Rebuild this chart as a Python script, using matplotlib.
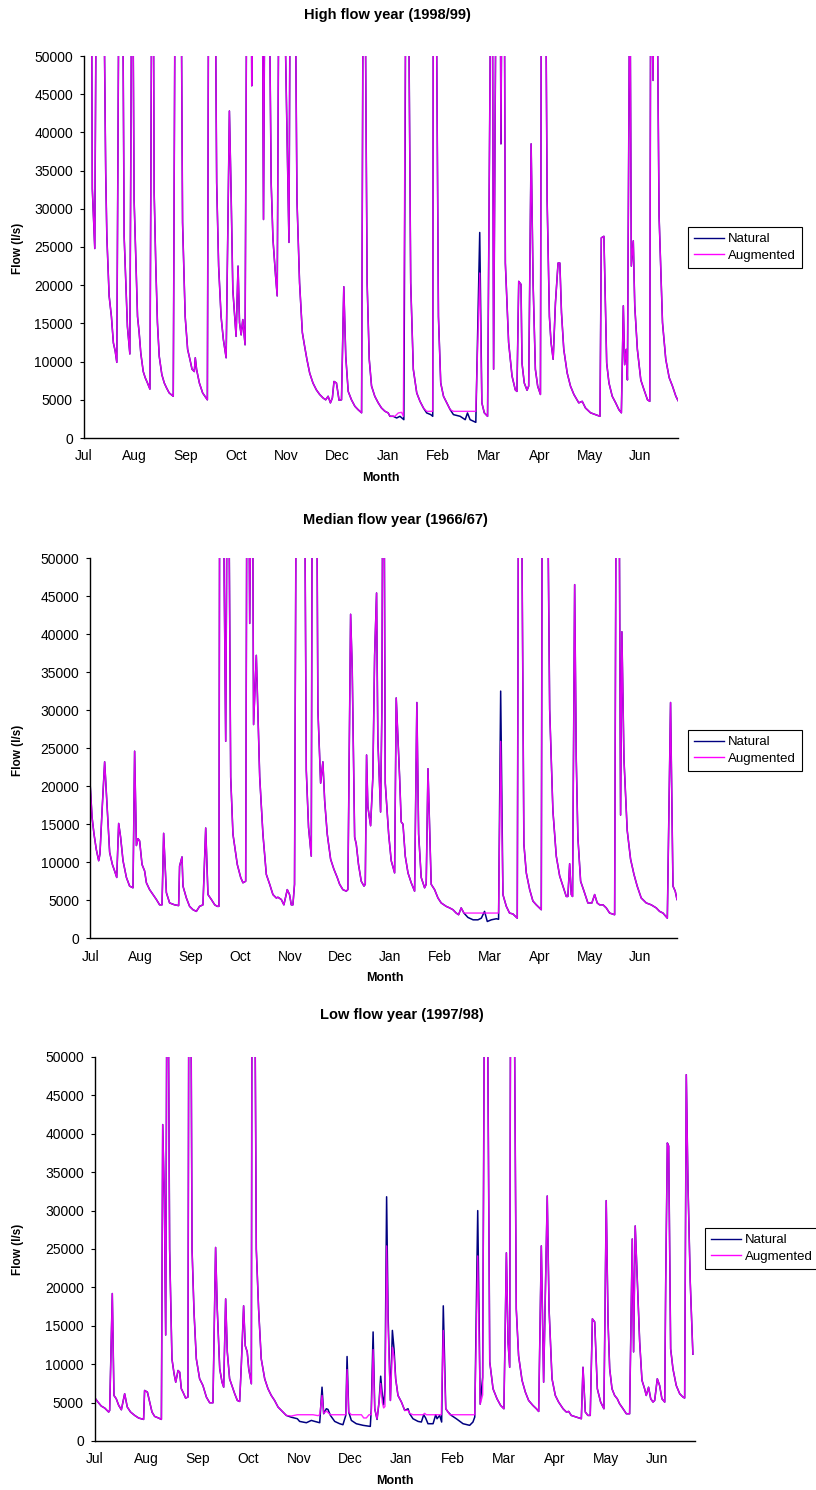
import numpy as np
import matplotlib.pyplot as plt

plt.rcParams['font.family'] = ['Liberation Sans', 'DejaVu Sans']

MONTHS = ['Jul', 'Aug', 'Sep', 'Oct', 'Nov', 'Dec', 'Jan', 'Feb', 'Mar', 'Apr', 'May', 'Jun']

# day of the water year (0 = 1 July) and flow in l/s.
# 65000 only means "off the top": the axis stops at 50000

# high flow year 1998/99
HIGH_DAYS = [0, 4.5, 5.1, 6.6, 7.6, 11.9, 13.3, 14.0, 15.4, 16.8, 18.0, 19.1, 20.1, 21.5, 23.6, 24.6,
             25.6, 26.6, 28.1, 29.3, 29.8, 30.7, 31.7, 32.8, 33.8, 34.8, 36.3, 37.5, 38.9, 40.4, 41.6,
             42.4, 43.0, 44.0, 45.0, 46.1, 47.7, 49.2, 50.6, 52.2, 54.7, 55.9, 59.4, 60.4, 62.0, 63.5,
             64.9, 66.2, 67.6, 68.2, 69.0, 70.7, 72.7, 75.6, 76.4, 80.3, 81.3, 82.5, 84.0, 85.4, 87.1,
             89.1, 90.1, 91.2, 93.2, 94.4, 95.3, 96.3, 97.3, 98.7, 99.8, 102.4, 102.8, 103.4, 109.2,
             110.0, 110.9, 113.3, 114.7, 115.8, 117.4, 118.4, 119.5, 122.3, 125.6, 126.4, 129.3, 130.5,
             132.1, 133.8, 135.2, 136.6, 138.3, 140.3, 142.4, 144.4, 146.5, 148.1, 149.6, 151.0, 152.2,
             153.2, 154.7, 156.3, 157.8, 159.2, 160.4, 161.9, 163.9, 166.0, 168.0, 170.1, 171.1, 172.1,
             173.5, 174.8, 176.2, 178.2, 180.3, 182.3, 184.4, 186.4, 187.5, 190.5, 192.6, 194.6, 195.7,
             197.3, 198.7, 200.2, 201.8, 203.9, 205.9, 208.0, 210.0, 213.7, 214.1, 215.7, 217.2, 218.6,
             220.3, 222.3, 224.4, 226.4, 240.1, 242.5, 243.8, 245.3, 247.3, 249.4, 250.2, 251.0, 252.6,
             255.0, 255.5, 256.2, 257.5, 258.2, 260.2, 262.3, 264.3, 265.3, 266.4, 267.8, 268.4, 269.8,
             271.5, 272.5, 274.0, 275.2, 276.6, 278.0, 279.7, 280.3, 282.8, 283.8, 285.2, 286.2, 287.5,
             288.9, 290.5, 291.6, 292.6, 294.0, 296.1, 298.1, 300.2, 303.2, 305.3, 307.3, 310.4, 313.5,
             316.2, 317.0, 318.6, 320.3, 321.7, 323.7, 325.8, 327.8, 329.3, 330.5, 331.3, 332.3, 333.0,
             334.5, 335.4, 336.6, 337.5, 339.1, 341.2, 343.2, 345.3, 346.7, 347.3, 348.7, 349.5, 351.0,
             352.4, 354.5, 356.5, 358.6, 360.6, 362.7, 364.0]
HIGH_AUG = [65000, 65000, 32600, 24800, 65000, 65000, 34700, 26400, 18600, 15900, 12450, 11400, 9900,
            65000, 65000, 26400, 20300, 14600, 11000, 65000, 65000, 31200, 23800, 15900, 13800, 11100,
            8700, 7900, 7200, 6400, 65000, 65000, 32100, 22500, 15100, 10700, 8300, 7200, 6550, 5900,
            5460, 65000, 65000, 28200, 15900, 11600, 10300, 9000, 8700, 10500, 8960, 7200, 5900, 5000,
            65000, 65000, 33400, 22500, 15900, 12900, 10500, 42800, 32600, 19400, 13300, 22500, 15100,
            13500, 15500, 12200, 65000, 65000, 46100, 65000, 65000, 28600, 65000, 65000, 33400, 26000,
            21200, 18600, 65000, 65000, 25600, 65000, 65000, 31200, 20300, 13800, 12000, 10300, 8500,
            7200, 6300, 5700, 5240, 5000, 5460, 4600, 5240, 7400, 7200, 4940, 5000, 19800, 10700, 6100,
            5000, 4150, 3700, 3300, 65000, 65000, 20300, 10300, 6800, 5460, 4600, 3930, 3500, 3280,
            2840, 2840, 3280, 3360, 2840, 65000, 65000, 20300, 9000, 5900, 4800, 3930, 3490, 3490,
            65000, 65000, 15900, 7200, 5460, 4600, 3710, 3490, 3490, 21600, 4600, 3300, 2840, 65000,
            65000, 9000, 65000, 65000, 38500, 65000, 65000, 22900, 12500, 8100, 6300, 6100, 20500,
            20100, 9800, 7200, 6250, 6800, 38500, 20300, 9000, 6800, 5700, 65000, 65000, 31200, 15900,
            12500, 10300, 17700, 22900, 22900, 16400, 11600, 8500, 6800, 5700, 4600, 4800, 3930, 3300,
            3060, 2840, 26200, 26400, 9800, 7200, 5460, 4600, 3700, 3300, 17300, 9600, 11600, 7600,
            65000, 22500, 25800, 17300, 11600, 7600, 6300, 5000, 4800, 65000, 46800, 65000, 65000,
            29100, 15100, 10300, 7900, 6800, 5460, 4900]
# stretches where the natural flow differs from the augmented one
HIGH_NAT_DAYS = [[189.5, 191.6, 193.6, 196.0],
                 [210.0, 212.5, 213.7],
                 [226.4, 230.5, 233.6, 235.0, 236.6, 240.1, 242.5]]
HIGH_NAT = [[2840, 2620, 2840, 2400],
            [3280, 3060, 2840],
            [3060, 2840, 2400, 3280, 2400, 2050, 26900]]

# median flow year 1966/67
MED_DAYS = [0, 1.1, 2.3, 3.7, 5.2, 6.0, 7.3, 8.9, 10.6, 12.0, 13.7, 15.1, 16.4, 17.6, 18.8, 20.3,
            22.4, 24.4, 26.5, 27.5, 28.6, 29.6, 30.6, 32.1, 33.7, 34.8, 36.8, 38.9, 41.0, 43.0, 44.5,
            45.5, 47.2, 49.2, 52.3, 54.8, 55.4, 56.9, 57.5, 59.6, 61.6, 63.7, 65.8, 67.8, 69.9, 71.6,
            73.0, 75.1, 77.2, 78.8, 79.8, 80.3, 82.3, 84.0, 85.0, 85.8, 87.1, 88.5, 91.2, 93.3, 94.7,
            96.4, 97.2, 98.3, 98.9, 99.9, 100.6, 101.3, 103.0, 105.1, 107.1, 109.2, 111.3, 113.3,
            115.4, 116.4, 118.5, 120.1, 122.2, 123.6, 124.7, 125.7, 126.7, 127.8, 132.9, 134.0, 135.4,
            137.1, 137.7, 140.4, 141.2, 142.9, 144.3, 145.4, 147.0, 149.1, 151.1, 153.2, 154.7, 156.7,
            158.8, 159.8, 161.5, 162.5, 164.0, 165.0, 166.4, 168.1, 169.8, 170.6, 171.4, 172.2, 173.9,
            175.3, 176.4, 177.6, 178.4, 180.1, 180.9, 181.5, 182.2, 183.0, 185.1, 186.7, 188.8, 189.8,
            191.9, 192.9, 194.0, 195.4, 197.1, 199.1, 201.2, 202.6, 203.7, 205.3, 207.4, 208.4, 209.5,
            210.5, 211.5, 213.6, 215.7, 217.7, 220.8, 222.9, 225.0, 227.0, 228.5, 230.1, 231.8, 234.3,
            240.5, 246.3, 253.3, 254.6, 256.0, 258.1, 260.1, 262.2, 264.9, 265.7, 267.4, 269.0, 270.5,
            272.6, 274.6, 276.7, 279.8, 280.4, 283.5, 285.0, 287.0, 289.1, 291.2, 293.2, 295.3, 296.3,
            297.4, 298.4, 299.2, 300.5, 301.5, 302.5, 304.2, 306.3, 308.7, 311.2, 312.9, 314.5, 316.0,
            318.1, 320.1, 322.2, 325.3, 326.3, 328.0, 329.0, 329.8, 331.1, 333.1, 335.2, 337.3, 339.3,
            341.8, 344.9, 348.0, 351.1, 353.2, 355.3, 358.0, 360.0, 361.5, 362.9, 364.0]
MED_AUG = [19900, 15900, 13700, 11700, 10200, 11100, 16800, 23200, 16800, 11300, 9700, 8850, 8000,
           15100, 13300, 10200, 8000, 6860, 6640, 24600, 12200, 13100, 12800, 9700, 8850, 7300, 6400,
           5750, 5100, 4400, 4400, 13800, 6000, 4650, 4400, 4300, 9500, 10700, 6860, 5300, 4200, 3760,
           3540, 4200, 4400, 14500, 5750, 5100, 4400, 4200, 4200, 65000, 65000, 25900, 65000, 65000,
           21200, 13700, 9700, 8000, 7300, 7500, 65000, 65000, 41400, 65000, 65000, 28100, 37200,
           21200, 13700, 8400, 7100, 5750, 5300, 5400, 5100, 4400, 6400, 5750, 4400, 4400, 7100,
           65000, 65000, 22100, 14600, 10800, 65000, 65000, 30100, 20400, 23200, 18100, 13700, 10400,
           9100, 8000, 7100, 6400, 6200, 6400, 42600, 35400, 13300, 12400, 9700, 7500, 6860, 7100,
           24100, 17300, 14800, 21200, 37200, 45400, 26100, 16600, 30100, 65000, 65000, 20400, 13700,
           10200, 8600, 31600, 21200, 15300, 15000, 10800, 8600, 7300, 6200, 31000, 13700, 8000, 6640,
           7100, 22300, 14600, 7100, 6400, 5300, 4650, 4200, 4000, 3760, 3320, 3100, 4000, 3320, 3320,
           3320, 3320, 3320, 25900, 5750, 4200, 3320, 3200, 2650, 65000, 65000, 12400, 8600, 6400,
           4900, 4400, 3760, 65000, 65000, 30100, 16800, 10800, 8200, 6860, 5500, 5500, 9800, 5750,
           5500, 46500, 23500, 13300, 7500, 6200, 4650, 4650, 5750, 4650, 4400, 4400, 4000, 3320, 3100,
           65000, 65000, 16200, 40300, 23500, 14200, 10400, 8400, 6860, 5300, 4650, 4400, 4000, 3540,
           3320, 2650, 31000, 6860, 6200, 5100]
MED_NAT_DAYS = [[234.3, 237.5, 240.5, 242.6, 244.6, 246.3, 248.8, 251.9, 253.3, 254.6]]
MED_NAT = [[2740, 2430, 2430, 2650, 3540, 2210, 2430, 2570, 2500, 32500]]

# low flow year 1997/98
LOW_DAYS = [0, 1.8, 3.8, 5.9, 8.3, 8.9, 10.5, 11.5, 12.9, 14.4, 16.0, 18.0, 19.6, 21.6, 24.1, 26.5,
            29.5, 30.1, 31.8, 33.2, 34.6, 36.2, 38.6, 40.3, 41.1, 42.1, 42.9, 43.7, 44.3, 45.3, 46.7,
            48.0, 49.0, 50.4, 51.4, 52.4, 53.4, 55.0, 56.4, 57.0, 58.1, 58.9, 60.1, 61.5, 63.5, 65.5,
            67.6, 69.6, 71.6, 73.2, 74.2, 75.7, 77.1, 78.1, 79.3, 80.3, 81.7, 83.1, 84.8, 86.4, 87.8,
            88.8, 90.2, 91.2, 92.4, 93.3, 94.9, 95.3, 96.9, 97.9, 99.3, 100.9, 103.0, 105.0, 107.0,
            109.0, 111.1, 113.1, 116.1, 119.1, 122.8, 132.3, 135.4, 136.4, 137.8, 138.8, 140.4, 142.9,
            152.2, 153.0, 154.0, 155.6, 161.7, 163.1, 164.7, 166.3, 167.7, 168.8, 169.8, 171.2, 172.4,
            173.4, 174.4, 175.2, 176.0, 177.0, 177.9, 179.3, 180.5, 181.5, 182.5, 183.9, 186.0, 188.0,
            190.0, 191.0, 193.0, 199.1, 200.1, 201.1, 210.2, 211.4, 212.9, 214.3, 215.3, 230.5, 232.3,
            233.8, 235.3, 236.5, 238.0, 239.6, 241.6, 244.0, 246.2, 248.2, 249.7, 250.7, 251.7, 252.3,
            254.3, 255.7, 257.1, 259.2, 261.2, 263.2, 265.8, 267.9, 269.3, 270.9, 272.3, 274.5, 275.6,
            277.4, 279.4, 281.4, 284.1, 286.1, 287.5, 289.1, 292.1, 295.2, 296.2, 297.6, 299.2, 300.6,
            301.9, 303.3, 304.9, 306.9, 308.9, 310.3, 311.4, 312.4, 313.8, 315.4, 317.0, 318.4, 320.5,
            322.5, 324.5, 326.1, 326.9, 327.9, 329.2, 330.6, 332.0, 333.6, 334.6, 336.0, 337.3, 338.7,
            339.7, 341.3, 342.7, 344.1, 345.8, 346.4, 347.4, 348.2, 349.4, 350.8, 352.8, 354.9, 356.9,
            357.9, 358.9, 359.9, 361.3, 362.9]
LOW_AUG = [5590, 5070, 4550, 4290, 3770, 3980, 19200, 5930, 5500, 4630, 4070, 6150, 4420, 3770, 3330,
           2990, 2810, 6580, 6370, 5070, 3770, 3200, 2990, 2810, 41200, 31500, 13800, 65000, 65000,
           25000, 10700, 8750, 7660, 9180, 8960, 6800, 6370, 5590, 5720, 65000, 65000, 25000, 16800,
           10700, 8100, 7230, 5720, 4980, 4980, 25200, 17200, 9400, 7660, 7010, 18500, 11600, 8100,
           7230, 6150, 5280, 5150, 9830, 17600, 12400, 11600, 9400, 7450, 65000, 65000, 25000, 17200,
           10700, 8100, 6800, 5930, 5280, 4420, 3980, 3330, 3250, 3420, 3420, 3300, 3420, 5930, 3600,
           3900, 3420, 3420, 9300, 3770, 3420, 3420, 3000, 3000, 3420, 3420, 11900, 4200, 2900, 5070,
           7500, 5000, 4300, 4500, 25400, 15000, 5280, 12200, 11000, 8100, 5930, 5070, 3980, 4000,
           3600, 3420, 3420, 3600, 3420, 3420, 14400, 4200, 3770, 3420, 3420, 24100, 4800, 6000, 65000,
           65000, 10300, 6800, 5500, 4630, 4200, 24500, 12900, 9600, 65000, 65000, 17200, 11100, 7900,
           6370, 5280, 4630, 4200, 3850, 25400, 7660, 31900, 17200, 8100, 5930, 5070, 4200, 3770, 3850,
           3330, 3120, 2900, 9600, 3770, 3330, 3330, 15900, 15500, 6800, 5070, 4200, 31300, 15500,
           9400, 6800, 5930, 5500, 4850, 4200, 3550, 3550, 26300, 11600, 28000, 20700, 12900, 7900,
           6800, 5930, 7000, 5500, 5070, 5280, 8100, 7230, 5500, 5070, 20700, 38800, 38400, 12000,
           9400, 7230, 6150, 5720, 5590, 47700, 33600, 20700, 11300]
LOW_NAT_DAYS = [[119.1, 122.8, 124.2, 128.3, 131.3, 133.4, 136.4, 137.8, 138.8, 140.4, 141.4, 142.9,
                 145.5, 148.5, 150.5, 152.2, 153.0, 154.0, 155.6, 158.6, 162.7, 167.1, 167.7, 168.8,
                 169.8, 171.2, 172.4, 173.4, 174.4, 175.2, 176.0, 177.0, 177.9, 179.3, 180.5, 181.5,
                 182.5, 183.9, 186.0, 188.0, 190.0, 191.0, 193.0, 196.1, 198.1, 199.5, 200.7, 202.1,
                 205.2, 206.8, 207.6, 209.2, 210.4, 211.4, 212.9, 214.3, 216.3, 219.3, 223.4, 227.4,
                 229.4, 230.5, 232.3, 233.8, 235.3]]
LOW_NAT = [[3100, 2900, 2550, 2380, 2680, 2550, 2380, 7010, 3550, 4200, 4110, 3330, 2550, 2250, 2120,
            3330, 11000, 3770, 2680, 2250, 2040, 1900, 4200, 14200, 4200, 2810, 5070, 8440, 5930, 4720,
            6800, 31800, 16300, 5280, 14400, 12000, 8100, 5930, 5070, 3980, 4200, 3550, 2900, 2550,
            2470, 3420, 2990, 2250, 2250, 3420, 2900, 3330, 2470, 17600, 4200, 3770, 3330, 2900, 2250,
            2040, 2470, 3120, 30000, 4800, 8300]]

NAT_COLOR = '#000080'
AUG_COLOR = '#ff00ff'


def natural_flow(days, aug, nat_days, nat):
    # natural is the same as augmented except in the stretches listed
    days = np.asarray(days, float)
    aug = np.asarray(aug, float)
    keep = np.ones(len(days), bool)
    for d in nat_days:
        keep &= (days < d[0]) | (days > d[-1])
    x = np.concatenate([days[keep]] + [np.asarray(d, float) for d in nat_days])
    y = np.concatenate([aug[keep]] + [np.asarray(v, float) for v in nat])
    order = np.argsort(x)
    return x[order], y[order]


def px(x, y):
    # pixel position on the 816x1490 image -> figure fraction
    return x / 816, 1 - y / 1490


def flow_panel(fig, box, title, days, aug, nat_days, nat, title_xy, legend_xy, ylab_xy, xlab_xy):
    left, top, right, bottom = box
    x0, y0 = px(left, bottom)
    ax = fig.add_axes([x0, y0, (right - left) / 816, (bottom - top) / 1490])

    nx, ny = natural_flow(days, aug, nat_days, nat)
    ax.plot(nx, ny, color=NAT_COLOR, lw=1.1, label='Natural')
    ax.plot(days, aug, color=AUG_COLOR, lw=1.0, alpha=0.88, label='Augmented')

    ax.set_xlim(0, 364)
    ax.set_ylim(0, 50000)
    ax.set_yticks(range(0, 50001, 5000))
    ax.set_xticks(np.arange(12) * 31)
    ax.set_xticklabels(MONTHS)
    ax.tick_params(axis='x', length=0, pad=16, labelsize=10)
    for lab in ax.get_xticklabels():
        lab.set_va('baseline')
    ax.tick_params(axis='y', direction='out', length=3, width=0.8, pad=5, labelsize=10)
    for side in ['top', 'right']:
        ax.spines[side].set_visible(False)
    for side in ['left', 'bottom']:
        ax.spines[side].set_linewidth(1.0)
        ax.spines[side].set_color('black')

    fig.text(*px(*title_xy), title, ha='center', va='center', fontsize=10.5, fontweight='bold')
    fig.text(*px(*ylab_xy), 'Flow (l/s)', ha='center', va='center', rotation=90,
             fontsize=8.5, fontweight='bold')
    fig.text(*px(*xlab_xy), 'Month', ha='center', va='center', fontsize=9, fontweight='bold')

    leg = ax.legend(loc='upper left', bbox_to_anchor=px(*legend_xy), bbox_transform=fig.transFigure,
                    fancybox=False, framealpha=1, edgecolor='black', fontsize=9.5,
                    handlelength=2.3, handletextpad=0.3, borderpad=0.45, labelspacing=0.35,
                    borderaxespad=0)
    leg.get_frame().set_linewidth(0.8)
    for line in leg.get_lines():
        line.set_alpha(1)
        line.set_linewidth(1.0)
    return ax


def main():
    fig = plt.figure(figsize=(8.16, 14.90), dpi=100)

    flow_panel(fig, (84, 56, 678, 438), 'High flow year (1998/99)',
               HIGH_DAYS, HIGH_AUG, HIGH_NAT_DAYS, HIGH_NAT,
               (387, 15), (688, 227), (18, 248), (381, 478))
    flow_panel(fig, (90.3, 558, 677, 938.3), 'Median flow year (1966/67)',
               MED_DAYS, MED_AUG, MED_NAT_DAYS, MED_NAT,
               (395, 520), (688, 730), (18, 750), (385, 978))
    flow_panel(fig, (95, 1057, 694.7, 1441), 'Low flow year (1997/98)',
               LOW_DAYS, LOW_AUG, LOW_NAT_DAYS, LOW_NAT,
               (402, 1015), (705, 1228), (18, 1249), (395, 1481))

    fig.savefig('out.png', dpi=100)


if __name__ == '__main__':
    main()
